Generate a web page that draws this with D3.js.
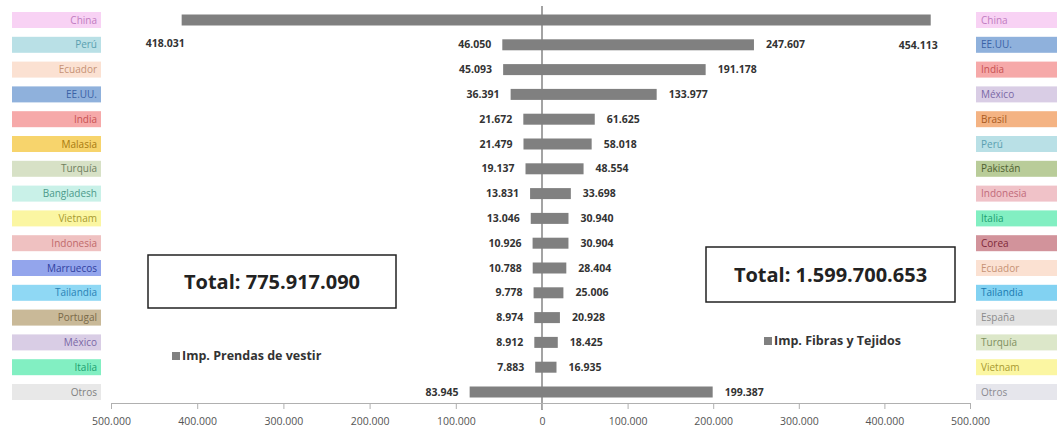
<!DOCTYPE html>
<html><head><meta charset="utf-8">
<script src="https://cdn.jsdelivr.net/npm/d3@7"></script>
<style>html,body{margin:0;padding:0;background:#fff;}svg{display:block;}</style>
</head><body><svg id="c" width="1057" height="434"></svg>
<script>
const leftCountries = ["China","Perú","Ecuador","EE.UU.","India","Malasia","Turquía","Bangladesh","Vietnam","Indonesia","Marruecos","Tailandia","Portugal","México","Italia","Otros"];
const leftValues = [418031,46050,45093,36391,21672,21479,19137,13831,13046,10926,10788,9778,8974,8912,7883,83945];
const leftFill = ["#f8d2f4","#b9e0e6","#fbe1d2","#8fb1dc","#f6a9a9","#f7d46c","#d7e1c6","#c9f1e8","#fbf6a2","#efc1c1","#93a5ec","#8fd8f4","#c9b998","#d9cde5","#82efc2","#e8e8e8"];
const leftText = ["#c07cc0","#5a9fb0","#c69275","#3a62a6","#c85252","#a87a10","#6f7f60","#4c9a8a","#a89a30","#c06a6a","#3040a0","#2a82b4","#7a6a48","#7a68a6","#20a070","#808080"];

const rightCountries = ["China","EE.UU.","India","México","Brasil","Perú","Pakistán","Indonesia","Italia","Corea","Ecuador","Tailandia","España","Turquía","Vietnam","Otros"];
const rightValues = [454113,247607,191178,133977,61625,58018,48554,33698,30940,30904,28404,25006,20928,18425,16935,199387];
const rightFill = ["#f8d2f4","#8fb1dc","#f6a9a9","#d9cde5","#f4b383","#b9e0e6","#b9cc99","#f0c2c8","#82efc2","#d2939b","#fbe1d2","#82d2f2","#e2e2e2","#dce7c9","#fbf6a2","#e6e6ec"];
const rightText = ["#c07cc0","#3a62a6","#c85252","#7a68a6","#a85a20","#5a9fb0","#4f6030","#c06a7a","#20a070","#802838","#c69275","#1a7ab0","#8a8a8a","#7f8f60","#a89a30","#8a8a90"];

const tickValues = [-500000,-400000,-300000,-200000,-100000,0,100000,200000,300000,400000,500000];
const series = ["Imp. Prendas de vestir","Imp. Fibras y Tejidos"];
const totals = ["Total: 775.917.090","Total: 1.599.700.653"];

const loc = d3.formatLocale({decimal:",",thousands:".",grouping:[3],currency:["",""]});
const fmt = loc.format(",d");

const svg = d3.select("#c");
const x = d3.scaleLinear().domain([-500000,0,500000]).range([111,542,970]);
const y = d3.scalePoint().domain(d3.range(16)).range([20,392]);
const barH = 11;
const barColor = "#808080";
const valFont = "'Open Sans', sans-serif";

// center line
svg.append("line").attr("x1",x(0)).attr("x2",x(0)).attr("y1",6).attr("y2",410)
  .attr("stroke","#858585").attr("stroke-width",1.5);

// left bars
svg.selectAll("rect.lb").data(leftValues).join("rect").attr("class","lb")
  .attr("x",d=>x(-d)).attr("width",d=>x(0)-x(-d))
  .attr("y",(d,i)=>y(i)-barH/2).attr("height",barH).attr("fill",barColor);
// right bars
svg.selectAll("rect.rb").data(rightValues).join("rect").attr("class","rb")
  .attr("x",x(0)).attr("width",d=>x(d)-x(0))
  .attr("y",(d,i)=>y(i)-barH/2).attr("height",barH).attr("fill",barColor);

// value labels
svg.selectAll("text.lv").data(leftValues).join("text").attr("class","lv")
  .attr("x",d=> d>300000 ? x(-d)+3 : x(-d)-11)
  .attr("y",(d,i)=> d>300000 ? y(i)+23 : y(i))
  .attr("dy","0.35em").attr("text-anchor","end")
  .attr("font-family",valFont).attr("font-weight","bold").attr("font-size",10.5).attr("fill","#333")
  .text(d=>fmt(d));
svg.selectAll("text.rv").data(rightValues).join("text").attr("class","rv")
  .attr("x",d=> d>300000 ? x(d)+7 : x(d)+12)
  .attr("y",(d,i)=> d>300000 ? y(i)+25 : y(i))
  .attr("dy","0.35em").attr("text-anchor",d=> d>300000 ? "end" : "start")
  .attr("font-family",valFont).attr("font-weight","bold").attr("font-size",10.5).attr("fill","#333")
  .text(d=>fmt(d));

// country boxes left
const boxH = 16;
const gl = svg.selectAll("g.lc").data(leftCountries).join("g").attr("class","lc");
gl.append("rect").attr("x",12).attr("width",89).attr("y",(d,i)=>y(i)-boxH/2).attr("height",boxH)
  .attr("fill",(d,i)=>leftFill[i]);
gl.append("text").attr("x",97).attr("y",(d,i)=>y(i)).attr("dy","0.35em").attr("text-anchor","end")
  .attr("font-family",valFont).attr("font-size",10).attr("fill",(d,i)=>leftText[i]).text(d=>d);
// right
const gr = svg.selectAll("g.rc").data(rightCountries).join("g").attr("class","rc");
gr.append("rect").attr("x",976).attr("width",81).attr("y",(d,i)=>y(i)-boxH/2).attr("height",boxH)
  .attr("fill",(d,i)=>rightFill[i]);
gr.append("text").attr("x",981).attr("y",(d,i)=>y(i)).attr("dy","0.35em").attr("text-anchor","start")
  .attr("font-family",valFont).attr("font-size",10).attr("fill",(d,i)=>rightText[i]).text(d=>d);

// axis
const axis = d3.axisBottom(x).tickValues(tickValues).tickFormat(d=>fmt(Math.abs(d))).tickSize(6).tickSizeOuter(0);
const ga = svg.append("g").attr("transform","translate(0,403)").call(axis);
ga.select(".domain").attr("stroke","#b0b0b0");
ga.selectAll(".tick line").attr("stroke","#b0b0b0");
ga.selectAll(".tick text").attr("font-family",valFont).attr("font-size",10.5).attr("fill","#555").attr("dy","1.25em");

// total boxes
const boxes = [{x:148,y:255,w:248,h:53,t:totals[0]},{x:706,y:247,w:249,h:55,t:totals[1]}];
boxes.forEach(b=>{
  svg.append("rect").attr("x",b.x).attr("y",b.y).attr("width",b.w).attr("height",b.h)
    .attr("fill","#fff").attr("stroke","#222").attr("stroke-width",1.5);
  svg.append("text").attr("x",b.x+b.w/2).attr("y",b.y+b.h/2).attr("dy","0.35em").attr("text-anchor","middle")
    .attr("font-family",valFont).attr("font-weight","bold").attr("font-size",20).attr("fill","#222").text(b.t);
});

// legends
const legs = [{x:172,y:356,t:series[0]},{x:764,y:341,t:series[1]}];
legs.forEach(l=>{
  svg.append("rect").attr("x",l.x).attr("y",l.y-4).attr("width",8).attr("height",8).attr("fill",barColor);
  svg.append("text").attr("x",l.x+10).attr("y",l.y).attr("dy","0.35em")
    .attr("font-family",valFont).attr("font-weight","bold").attr("font-size",12.5).attr("fill","#333").text(l.t);
});
</script></body></html>
